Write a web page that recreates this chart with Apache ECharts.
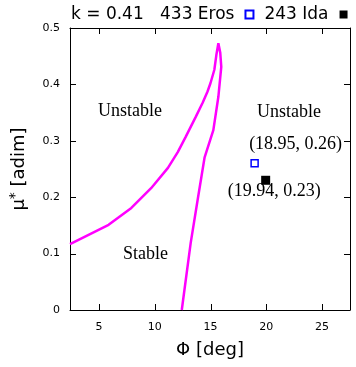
<!DOCTYPE html>
<html>
<head>
<meta charset="utf-8">
<script src="https://cdn.jsdelivr.net/npm/echarts@6/dist/echarts.min.js"></script>
<style>
  html, body { margin: 0; padding: 0; background: #fff; }
  #chart { width: 356px; height: 367px; }
</style>
</head>
<body>
<div id="chart"></div>
<script>
// stability boundary, traced left branch -> tip -> right branch
const boundaryPhi = [2.4, 5.86, 7.90, 9.67, 11.18, 12.06, 12.77, 13.66, 14.28, 14.72, 14.99, 15.34, 15.52, 15.70,
  15.87, 15.96, 15.70, 15.25, 14.46, 13.84, 13.22, 12.42];
const boundaryMu = [0.117, 0.151, 0.181, 0.216, 0.252, 0.280, 0.307, 0.342, 0.367, 0.387, 0.402, 0.426, 0.452, 0.473,
  0.456, 0.431, 0.378, 0.319, 0.270, 0.195, 0.119, 0.0];

const erosPoint = [18.95, 0.26];
const idaPoint = [19.94, 0.23];

const xTicks = [5, 10, 15, 20, 25];
const yTicks = [0.1, 0.2, 0.3, 0.4];
const xTickStep = 5;
const yTickStep = 0.1;

const tickFont = 'DejaVu Sans';
const serif = 'Liberation Serif';
const TICK_LEN = 6;

const chart = echarts.init(document.getElementById('chart'));

// x: nice interval of 5 from the range; edge ticks at 2.4 / 27.5 sit on the frame
function baseX() {
  return {
    type: 'value', min: 2.4, max: 27.5, splitNumber: 5,
    axisLine: { show: true, onZero: false, lineStyle: { color: '#000', width: 1 } },
    axisTick: { show: false },
    splitLine: { show: false }
  };
}
function baseY() {
  return {
    type: 'value', min: 0, max: 0.5, interval: yTickStep,
    axisLine: { show: true, onZero: false, lineStyle: { color: '#000', width: 1 } },
    axisTick: { show: false },
    splitLine: { show: false }
  };
}

// inward mirrored ticks (gnuplot style), placed through the axis scales
function tickSegments(isX) {
  return function (params, api) {
    const cs = params.coordSys;
    const v = api.value(isX ? 0 : 1);
    const p = api.coord(isX ? [v, 0] : [2.4, v]);
    const style = { stroke: '#000', lineWidth: 1 };
    const s = 0.5; // crisp 1px lines
    if (isX) {
      const x = Math.round(p[0]) + s;
      return {
        type: 'group', children: [
          { type: 'line', shape: { x1: x, y1: cs.y + cs.height, x2: x, y2: cs.y + cs.height - TICK_LEN }, style },
          { type: 'line', shape: { x1: x, y1: cs.y, x2: x, y2: cs.y + TICK_LEN }, style }
        ]
      };
    }
    const y = Math.round(p[1]) + s;
    return {
      type: 'group', children: [
        { type: 'line', shape: { x1: cs.x, y1: y, x2: cs.x + TICK_LEN, y2: y }, style },
        { type: 'line', shape: { x1: cs.x + cs.width, y1: y, x2: cs.x + cs.width - TICK_LEN, y2: y }, style }
      ]
    };
  };
}

const pointLabel = {
  show: true, position: 'inside',
  fontFamily: serif, fontSize: 18, color: '#000',
  textBorderWidth: 0, textBorderColor: 'transparent'
};

chart.setOption({
  animation: false,
  textStyle: { fontFamily: tickFont },
  grid: { left: 68, right: 6, top: 28, bottom: 57 },
  title: {
    text: 'k = 0.41',
    left: 66, top: 1,
    textStyle: { fontFamily: tickFont, fontSize: 17, fontWeight: 'normal', color: '#000' }
  },
  legend: {
    left: 155, top: 1,
    align: 'right',
    itemWidth: 8, itemHeight: 8,
    itemGap: 10,
    textStyle: { fontFamily: tickFont, fontSize: 17, color: '#000', padding: [0, 6, 0, 0] },
    data: ['433 Eros', '243 Ida']
  },
  xAxis: [
    Object.assign(baseX(), {
      position: 'bottom',
      name: 'Φ [deg]', nameLocation: 'middle', nameGap: 31,
      nameTextStyle: { fontFamily: tickFont, fontSize: 18, color: '#000' },
      axisLabel: {
        show: true, color: '#000', fontSize: 11, margin: 12,
        showMinLabel: false, showMaxLabel: false,
        formatter: v => (Math.abs(v % xTickStep) < 1e-9 ? String(v) : '')
      }
    }),
    Object.assign(baseX(), { position: 'top', axisLabel: { show: false } })
  ],
  yAxis: [
    Object.assign(baseY(), {
      position: 'left',
      name: 'μ{sup|*} [adim]', nameLocation: 'middle', nameGap: 40,
      nameTextStyle: {
        fontFamily: tickFont, fontSize: 18, color: '#000',
        rich: { sup: { fontSize: 14, verticalAlign: 'top', padding: [0, 0, 8, 0] } }
      },
      axisLabel: {
        show: true, color: '#000', fontSize: 11, margin: 10,
        formatter: v => (v === 0 ? '0' : v.toFixed(1))
      }
    }),
    Object.assign(baseY(), { position: 'right', axisLabel: { show: false } })
  ],
  series: [
    {
      type: 'custom',
      name: 'xticks',
      data: xTicks.map(v => [v, 0]),
      renderItem: tickSegments(true),
      silent: true, clip: false, z: 1
    },
    {
      type: 'custom',
      name: 'yticks',
      data: yTicks.map(v => [2.4, v]),
      renderItem: tickSegments(false),
      silent: true, clip: false, z: 1
    },
    {
      type: 'line',
      name: 'boundary',
      data: boundaryPhi.map((x, i) => [x, boundaryMu[i]]),
      showSymbol: false,
      lineStyle: { color: '#ff00ff', width: 2.5 },
      silent: true, z: 3
    },
    {
      type: 'scatter',
      name: '433 Eros',
      data: [erosPoint],
      symbol: 'rect', symbolSize: 7,
      itemStyle: { color: '#fff', borderColor: '#0000ff', borderWidth: 1.5, opacity: 1 },
      label: Object.assign({}, pointLabel, { offset: [41, -19], formatter: '(18.95, 0.26)' }),
      z: 4
    },
    {
      type: 'scatter',
      name: '243 Ida',
      data: [idaPoint],
      symbol: 'rect', symbolSize: 9,
      itemStyle: { color: '#000', opacity: 1 },
      label: Object.assign({}, pointLabel, { offset: [8.5, 11], formatter: '(19.94, 0.23)' }),
      z: 4
    }
  ],
  graphic: [
    { type: 'text', left: 98, top: 102, style: { text: 'Unstable', font: '18px "Liberation Serif"', fill: '#000' } },
    { type: 'text', left: 257, top: 103, style: { text: 'Unstable', font: '18px "Liberation Serif"', fill: '#000' } },
    { type: 'text', left: 123, top: 245, style: { text: 'Stable', font: '18px "Liberation Serif"', fill: '#000' } }
  ]
});
</script>
</body>
</html>
